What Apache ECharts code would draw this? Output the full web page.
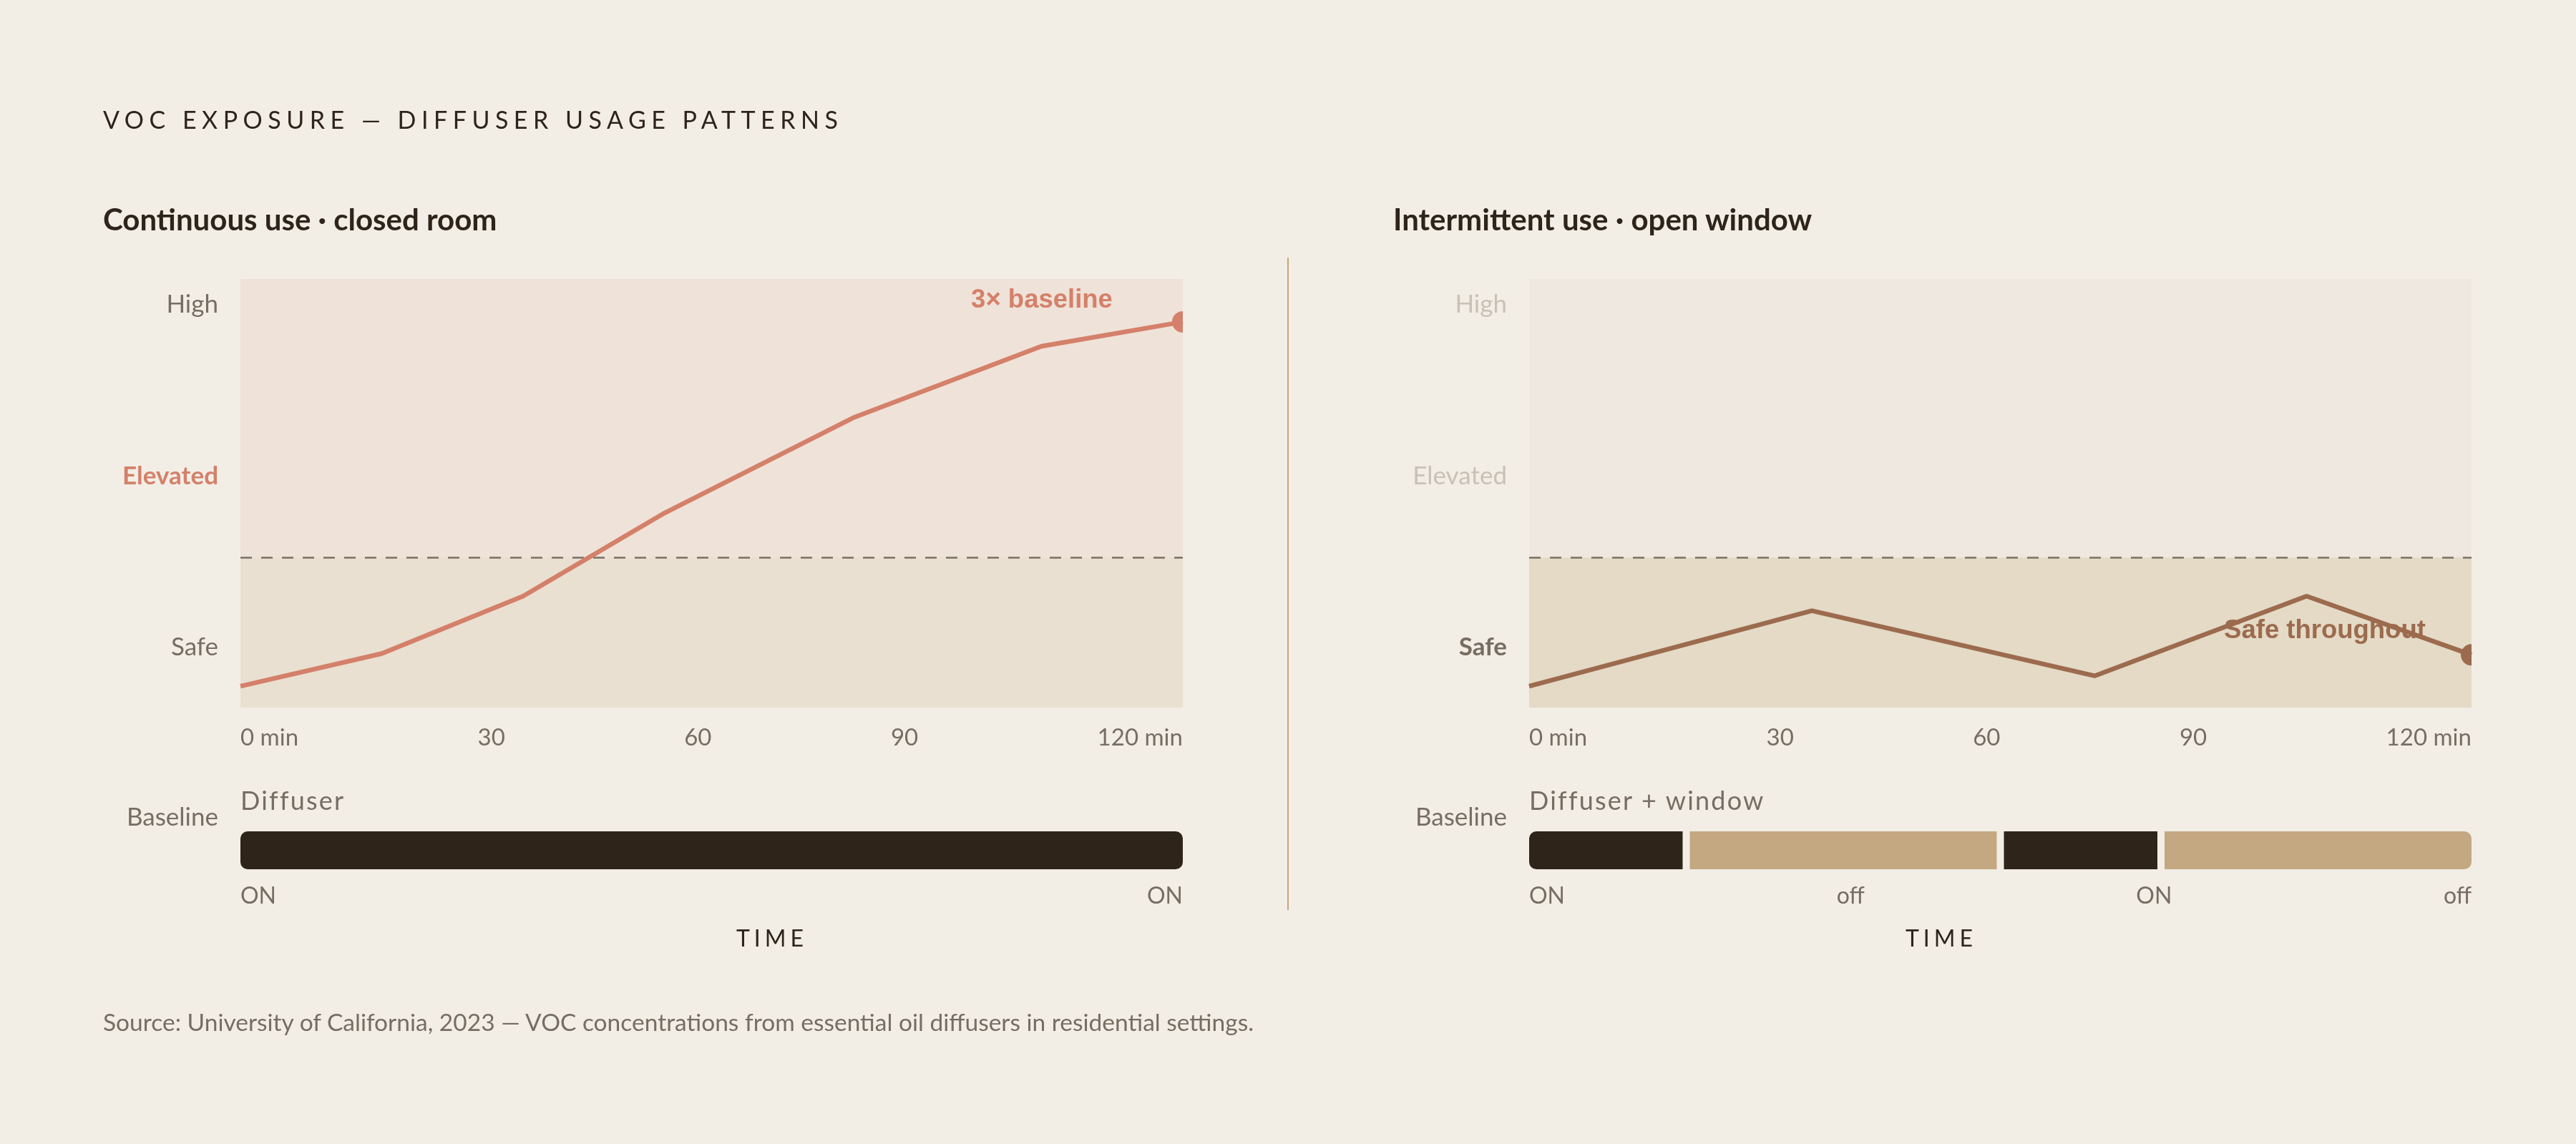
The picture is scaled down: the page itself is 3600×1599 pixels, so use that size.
<!DOCTYPE html>
<html>
<head>
<meta charset="utf-8">
<title>VOC exposure — diffuser usage patterns</title>
<script src="https://cdn.jsdelivr.net/npm/echarts@6/dist/echarts.min.js"></script>
<style>
  html, body { margin: 0; padding: 0; background: #F2EEE6; }
  #page { position: relative; width: 3600px; height: 1599px; background: #F2EEE6; font-family: Lato, sans-serif; overflow: hidden; }
  #chart { position: absolute; left: 0; top: 0; width: 3600px; height: 1599px; }
  .txt { position: absolute; line-height: 1; white-space: nowrap; color: #2E241A; pointer-events: none; }
  .title { left: 144px; top: 150px; font-size: 34px; letter-spacing: 7.5px; }
  .sub { top: 285px; font-size: 42px; font-weight: 700; }
  .axisname { top: 1295px; width: 300px; text-align: center; font-size: 32px; letter-spacing: 6px; text-indent: 6px; }
  .stripname { top: 1100px; font-size: 36px; letter-spacing: 2.2px; color: #776D62; }
  .source { left: 144px; top: 1412px; font-size: 33.5px; color: #776D62; }
  .ticks { position: absolute; width: 1317px; display: flex; justify-content: space-between; line-height: 1; color: #776D62; pointer-events: none; }
  .ticks.time { top: 1013px; font-size: 33px; }
  .ticks.state { top: 1235px; font-size: 32px; }
</style>
</head>
<body>
<div id="page">
  <div id="chart"></div>
  <div class="txt title">VOC EXPOSURE — DIFFUSER USAGE PATTERNS</div>
  <div class="txt sub" style="left:144px">Continuous use · closed room</div>
  <div class="txt sub" style="left:1947px">Intermittent use · open window</div>
  <div class="txt stripname" style="left:336px">Diffuser</div>
  <div class="txt stripname" style="left:2137px">Diffuser + window</div>
  <div class="txt axisname" style="left:926px">TIME</div>
  <div class="txt axisname" style="left:2560px">TIME</div>
  <div class="txt source">Source: University of California, 2023 — VOC concentrations from essential oil diffusers in residential settings.</div>
</div>
<script>
// data
const timeTicks = ['0 min', '30', '60', '90', '120 min']
const minutesA = [0, 18, 36, 54, 78, 102, 120]
const vocA = [5, 12.6, 26, 45.4, 67.6, 84.3, 90]
const minutesB = [0, 36, 72, 99, 120]
const vocB = [5, 22.6, 7.4, 26, 12.3]
const safeLimit = 35
const levelNames = ['Safe', 'Elevated', 'High']
const levelValues = [14, 54, 94]
const stripBoundsA = [0, 120]
const stripStatesA = ['ON']
const stripBoundsB = [0, 20, 60, 80, 120]
const stripStatesB = ['ON', 'off', 'ON', 'off']
const stripLabelsA = ['ON', 'ON']
const stripLabelsB = ['ON', 'off', 'ON', 'off']

const C = {
  dark: '#2E241A',
  tan: '#C4A882',
  gray: '#776D62',
  faint: '#C9C1B5',
  salmon: '#D4806A',
  brown: '#9C6B4E',
  dash: '#7A7065',
  divider: '#C9A57A'
}
const FONT = 'Lato'
const halfDot = 'path://M10,0 A10,10 0 0 0 10,20 Z'

const plotTop = 390, plotH = 599, plotW = 1317
const leftX = [336, 2137]
const stripTop = 1162, stripH = 53
const segGap = 10

// tick rows under the plots are spread edge to edge, like the reference
function tickRow(labels, left, cls) {
  const row = document.createElement('div')
  row.className = 'ticks ' + cls
  row.style.left = left + 'px'
  labels.forEach(t => {
    const s = document.createElement('span')
    s.textContent = t
    row.appendChild(s)
  })
  document.getElementById('page').appendChild(row)
}
tickRow(timeTicks, leftX[0], 'time')
tickRow(timeTicks, leftX[1], 'time')
tickRow(stripLabelsA, leftX[0], 'state')
tickRow(stripLabelsB, leftX[1], 'state')

function hiddenX(idx) {
  return {
    type: 'value', gridIndex: idx, min: 0, max: 120,
    axisLine: { show: false }, axisTick: { show: false }, splitLine: { show: false }, axisLabel: { show: false }
  }
}

function mainYAxis(idx, styles) {
  return {
    type: 'value', gridIndex: idx, min: 0, max: 100,
    axisLine: { show: false }, axisTick: { show: false }, splitLine: { show: false },
    axisLabel: {
      customValues: levelValues, margin: 31,
      formatter: v => {
        const i = levelValues.indexOf(v)
        return i < 0 ? '' : '{' + styles[i] + '|' + levelNames[i] + '}'
      },
      rich: {
        n: { fontFamily: FONT, fontSize: 35, color: C.gray },
        b: { fontFamily: FONT, fontSize: 35, color: C.gray, fontWeight: 'bold' },
        s: { fontFamily: FONT, fontSize: 35, color: C.salmon, fontWeight: 'bold' },
        f: { fontFamily: FONT, fontSize: 35, color: C.faint }
      }
    }
  }
}

function stripYAxis(idx) {
  return { type: 'value', gridIndex: idx, min: 0, max: 1, show: false }
}

function lineSeries(idx, mins, vals, color, note, notePos) {
  const data = mins.map((m, i) => [m, vals[i]])
  const last = data.length - 1
  data[last] = {
    value: data[last],
    symbol: halfDot, symbolSize: [15, 30], symbolOffset: [-7.5, 0],
    label: {
      show: true, formatter: note, position: notePos,
      align: 'center', verticalAlign: 'middle',
      fontFamily: 'Liberation Sans', fontWeight: 'bold', fontSize: 36.5, color: color
    }
  }
  return {
    type: 'line', xAxisIndex: idx, yAxisIndex: idx, data: data,
    symbol: 'none', showSymbol: true, clip: false, silent: true, animation: false,
    lineStyle: { color: color, width: 6.5 }, itemStyle: { color: color },
    z: 5
  }
}

function bandSeries(idx, lowColor) {
  return {
    type: 'line', xAxisIndex: idx, yAxisIndex: idx, data: [], silent: true, animation: false,
    markArea: {
      silent: true,
      itemStyle: { color: lowColor },
      data: [[{ yAxis: 0 }, { yAxis: safeLimit }]]
    },
    markLine: {
      silent: true, symbol: 'none', label: { show: false },
      lineStyle: { color: C.dash, width: 2.5, type: [16, 13] },
      data: [{ yAxis: safeLimit }]
    },
    z: 1
  }
}

// segments share the strip width minus fixed gaps between them
function stripSeries(idx, bounds, states) {
  const n = states.length
  const data = states.map((s, i) => [bounds[i], bounds[i + 1], s === 'ON' ? 1 : 0])
  return {
    type: 'custom', xAxisIndex: idx, yAxisIndex: idx, data: data, silent: true, animation: false,
    renderItem: (params, api) => {
      const cs = params.coordSys
      const i = params.dataIndex
      const k = (cs.width - (n - 1) * segGap) / cs.width
      const x0 = cs.x + (api.coord([api.value(0), 0])[0] - cs.x) * k + i * segGap
      const x1 = cs.x + (api.coord([api.value(1), 0])[0] - cs.x) * k + i * segGap
      const r = [i === 0 ? 10 : 0, i === n - 1 ? 10 : 0, i === n - 1 ? 10 : 0, i === 0 ? 10 : 0]
      return {
        type: 'rect',
        shape: { x: x0, y: cs.y, width: x1 - x0, height: cs.height, r: r },
        style: { fill: api.value(2) === 1 ? C.dark : C.tan }
      }
    }
  }
}

const chart = echarts.init(document.getElementById('chart'))

chart.setOption({
  backgroundColor: 'transparent',
  animation: false,
  grid: [
    { left: leftX[0], top: plotTop, width: plotW, height: plotH, show: true, backgroundColor: '#EFE2D8', borderWidth: 0 },
    { left: leftX[1], top: plotTop, width: plotW, height: plotH, show: true, backgroundColor: '#EFE8E0', borderWidth: 0 },
    { left: leftX[0], top: stripTop, width: plotW, height: stripH },
    { left: leftX[1], top: stripTop, width: plotW, height: stripH }
  ],
  xAxis: [hiddenX(0), hiddenX(1), hiddenX(2), hiddenX(3)],
  yAxis: [mainYAxis(0, ['n', 's', 'n']), mainYAxis(1, ['b', 'f', 'f']), stripYAxis(2), stripYAxis(3)],
  series: [
    bandSeries(0, '#E9E0D1'),
    bandSeries(1, '#E4DAC6'),
    lineSeries(0, minutesA, vocA, C.salmon, '3× baseline', [-182, -15]),
    lineSeries(1, minutesB, vocB, C.brown, 'Safe throughout', [-190, -18]),
    stripSeries(2, stripBoundsA, stripStatesA),
    stripSeries(3, stripBoundsB, stripStatesB)
  ],
  graphic: [
    { type: 'line', silent: true, shape: { x1: 1800, y1: 360, x2: 1800, y2: 1272 }, style: { stroke: C.divider, lineWidth: 2 } },
    { type: 'text', silent: true, style: { x: 305, y: 1143, text: 'Baseline', font: '35px Lato', fill: C.gray, textAlign: 'right', textVerticalAlign: 'middle' } },
    { type: 'text', silent: true, style: { x: 2106, y: 1143, text: 'Baseline', font: '35px Lato', fill: C.gray, textAlign: 'right', textVerticalAlign: 'middle' } }
  ]
})
</script>
</body>
</html>
